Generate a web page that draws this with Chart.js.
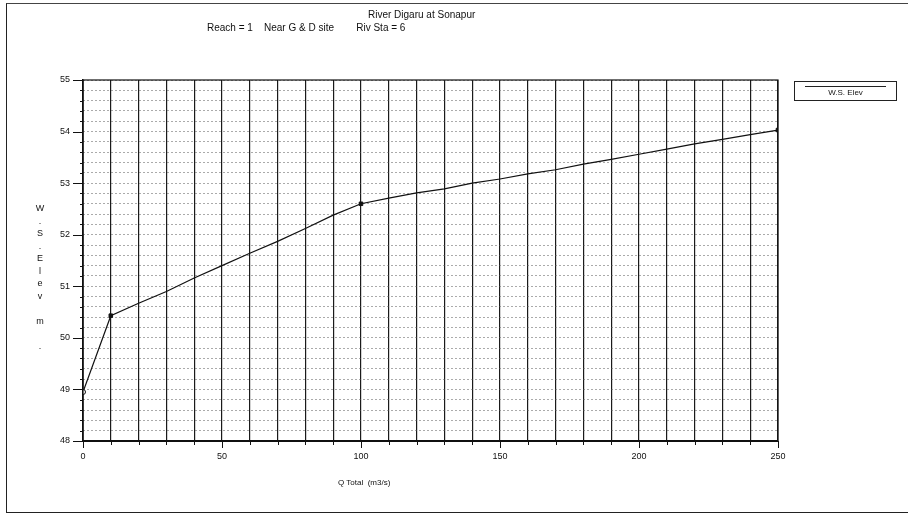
<!DOCTYPE html>
<html>
<head>
<meta charset="utf-8">
<script src="https://cdn.jsdelivr.net/npm/chart.js@4.4.0/dist/chart.umd.min.js"></script>
<style>
  html, body { margin:0; padding:0; background:#fff; }
  #wrap { position:relative; width:908px; height:517px; overflow:hidden; font-family:"Liberation Sans", Arial, sans-serif; color:#111; }
  #frame { position:absolute; left:6px; top:3px; width:910px; height:508px; border-left:1.5px solid #222; border-top:1px solid #444; border-bottom:1.5px solid #222; }
  .t { position:absolute; font-size:10px; white-space:pre; }
  #yTitle { position:absolute; left:34px; top:202px; width:12px; font-size:9px; text-align:center; line-height:12.5px; }
  #legend { position:absolute; left:794px; top:81px; width:101px; height:18px; border:1px solid #222; font-size:8px; text-align:center; }
  #legend .ln { position:absolute; left:10px; right:10px; top:4px; border-top:1px solid #222; }
  #legend span { position:relative; top:6px; }
</style>
</head>
<body>
<div id="wrap">
  <div id="frame"></div>
  <canvas id="rating" width="908" height="517"></canvas>
  <div class="t" style="left:368px;top:9px;">River Digaru at Sonapur</div>
  <div class="t" style="left:207px;top:22px;">Reach = 1    Near G &amp; D site        Riv Sta = 6</div>
  <div id="yTitle"></div>
  <div class="t" style="left:338px;top:478px;font-size:8px;">Q Total  (m3/s)</div>
  <div id="legend"><div class="ln"></div><span>W.S. Elev</span></div>
</div>
<script>
// rating curve
const flows = [0, 10, 20, 30, 40, 50, 60, 70, 80, 90, 100, 110, 120, 130, 140, 150, 160, 170, 180, 190, 200, 210, 220, 230, 240, 250];
const wsElev = [48.95, 50.43, 50.67, 50.90, 51.16, 51.40, 51.64, 51.87, 52.12, 52.38, 52.60, 52.71, 52.81, 52.89, 53.00, 53.08, 53.18, 53.26, 53.37, 53.46, 53.56, 53.66, 53.76, 53.85, 53.94, 54.03];
const markedFlows = [0, 10, 100, 250];
const xTickLabels = [0, 50, 100, 150, 200, 250];
const yTickLabels = [48, 49, 50, 51, 52, 53, 54, 55];
const yTitleChars = ['W', '.', 'S', '.', 'E', 'l', 'e', 'v', '', 'm', '', '.'];

document.getElementById('yTitle').innerHTML = yTitleChars.map(c => c ? c : '&nbsp;').join('<br>');

const near = (a, b) => Math.abs(a - b) < 1e-6;

// plot frame + tick marks drawn off the library scales
const axisMarks = {
  id: 'axisMarks',
  afterDraw(chart){
    const {ctx, chartArea: a, scales: {x, y}} = chart;
    ctx.save();
    ctx.strokeStyle = '#111';
    ctx.lineWidth = 1.2;
    ctx.strokeRect(a.left, a.top, a.right - a.left, a.bottom - a.top);
    ctx.lineWidth = 1;
    for(let v = 48; v <= 55.001; v += 0.2){
      const py = Math.round(y.getPixelForValue(v)) + 0.5;
      const major = yTickLabels.some(t => near(t, v));
      ctx.beginPath();
      ctx.moveTo(a.left - (major ? 10 : 3), py);
      ctx.lineTo(a.left, py);
      ctx.stroke();
    }
    for(let v = 0; v <= 250; v += 10){
      const px = Math.round(x.getPixelForValue(v)) + 0.5;
      const major = xTickLabels.includes(v);
      ctx.beginPath();
      ctx.moveTo(px, a.bottom);
      ctx.lineTo(px, a.bottom + (major ? 7 : 4));
      ctx.stroke();
    }
    ctx.restore();
  }
};

new Chart(document.getElementById('rating'), {
  type: 'line',
  data: {
    datasets: [{
      label: 'W.S. Elev',
      data: flows.map((q, i) => ({x: q, y: wsElev[i]})),
      borderColor: '#111',
      borderWidth: 1.2,
      tension: 0,
      pointRadius: ctx => markedFlows.includes(flows[ctx.dataIndex]) ? 2.5 : 0,
      pointStyle: ctx => flows[ctx.dataIndex] === 0 ? 'circle' : 'rect',
      pointBackgroundColor: ctx => flows[ctx.dataIndex] === 0 ? '#fff' : '#111',
      pointBorderColor: '#111',
      pointBorderWidth: 1
    }]
  },
  options: {
    responsive: false,
    animation: false,
    layout: {padding: {top: 80, right: 130, left: 0, bottom: 0}},
    plugins: {legend: {display: false}, tooltip: {enabled: false}},
    scales: {
      x: {
        type: 'linear', min: 0, max: 250,
        afterFit: s => { s.height = 76; },
        ticks: {
          stepSize: 10, padding: 10, color: '#111',
          font: {family: 'Liberation Sans', size: 9},
          maxRotation: 0, autoSkip: false,
          callback: v => xTickLabels.includes(v) ? String(v) : ''
        },
        grid: {color: '#1a1a1a', lineWidth: 1.2, drawTicks: false},
        border: {display: true, color: '#111', width: 2}
      },
      y: {
        type: 'linear', min: 48, max: 55,
        afterFit: s => { s.width = 83; },
        ticks: {
          stepSize: 0.2, padding: 13, color: '#111',
          font: {family: 'Liberation Sans', size: 9},
          autoSkip: false,
          callback: v => yTickLabels.some(t => near(t, v)) ? String(Math.round(v)) : ''
        },
        grid: {color: '#555', lineWidth: 1, drawTicks: false},
        border: {display: true, color: '#111', width: 1.5, dash: [1, 3]}
      }
    }
  },
  plugins: [axisMarks]
});
</script>
</body>
</html>
